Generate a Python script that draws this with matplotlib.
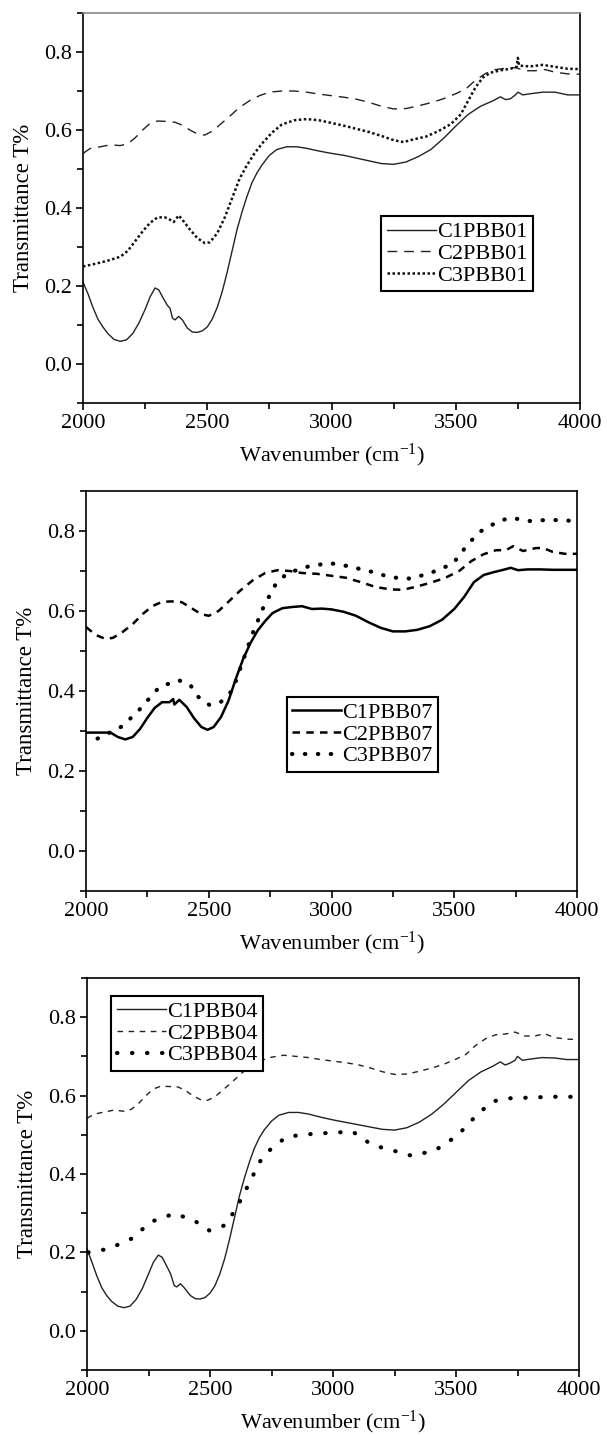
import matplotlib
matplotlib.use('Agg')
import matplotlib.pyplot as plt
from matplotlib.ticker import MultipleLocator, FormatStrFormatter

plt.rcParams['font.family'] = ['Liberation Serif', 'DejaVu Serif']
plt.rcParams['mathtext.fontset'] = 'custom'
plt.rcParams['mathtext.rm'] = 'Liberation Serif'
plt.rcParams['mathtext.it'] = 'Liberation Serif:italic'

# ---- panel 1 data (PBB01) ----
x_c1_01 = [2000, 2020, 2040, 2060, 2080, 2100, 2125, 2150, 2175, 2200, 2225, 2250, 2270, 2290,
           2305, 2320, 2340, 2350, 2360, 2370, 2385, 2400, 2420, 2440, 2460, 2480, 2500, 2520,
           2540, 2560, 2580, 2600, 2620, 2640, 2660, 2680, 2700, 2720, 2750, 2780, 2820, 2860,
           2900, 2950, 3000, 3050, 3100, 3150, 3200, 3250, 3300, 3350, 3400, 3450, 3500, 3550,
           3600, 3650, 3680, 3700, 3720, 3740, 3750, 3770, 3800, 3850, 3900, 3950, 4000]
y_c1_01 = [0.21, 0.18, 0.145, 0.115, 0.095, 0.078, 0.063, 0.058, 0.062, 0.078, 0.105, 0.14, 0.172, 0.195,
           0.19, 0.172, 0.15, 0.143, 0.118, 0.113, 0.122, 0.113, 0.092, 0.082, 0.081, 0.085, 0.095, 0.115,
           0.145, 0.185, 0.235, 0.29, 0.345, 0.39, 0.43, 0.465, 0.49, 0.51, 0.535, 0.55, 0.557, 0.557,
           0.553, 0.546, 0.54, 0.535, 0.528, 0.521, 0.514, 0.512, 0.518, 0.532, 0.55, 0.578, 0.61, 0.64,
           0.661, 0.675, 0.685, 0.678, 0.68, 0.69, 0.697, 0.69, 0.693, 0.697, 0.697, 0.69, 0.69]
x_c2_01 = [2000, 2030, 2070, 2110, 2150, 2180, 2210, 2240, 2270, 2300, 2340, 2370, 2400, 2430,
           2460, 2490, 2520, 2550, 2590, 2630, 2670, 2710, 2750, 2800, 2850, 2900, 2950, 3000,
           3050, 3100, 3150, 3200, 3250, 3300, 3350, 3400, 3450, 3500, 3540, 3580, 3620, 3660,
           3700, 3740, 3780, 3820, 3860, 3900, 3950, 4000]
y_c2_01 = [0.54, 0.553, 0.557, 0.562, 0.56, 0.565, 0.58, 0.60, 0.617, 0.623, 0.622, 0.62, 0.612, 0.60,
           0.59, 0.587, 0.597, 0.613, 0.635, 0.658, 0.675, 0.688, 0.697, 0.70, 0.70, 0.697, 0.692, 0.688,
           0.684, 0.679, 0.671, 0.661, 0.654, 0.655, 0.662, 0.67, 0.68, 0.693, 0.705, 0.728, 0.745, 0.755,
           0.758, 0.76, 0.752, 0.752, 0.755, 0.748, 0.744, 0.743]
x_c3_01 = [2000, 2050, 2100, 2150, 2180, 2210, 2240, 2270, 2300, 2330, 2350, 2365, 2385, 2400,
           2430, 2460, 2490, 2510, 2540, 2570, 2600, 2630, 2660, 2690, 2720, 2760, 2800, 2850,
           2900, 2950, 3000, 3050, 3100, 3150, 3200, 3250, 3290, 3330, 3380, 3430, 3480, 3520,
           3550, 3580, 3610, 3640, 3680, 3720, 3745, 3750, 3755, 3800, 3850, 3900, 3950, 4000]
y_c3_01 = [0.25, 0.257, 0.265, 0.275, 0.29, 0.315, 0.34, 0.362, 0.376, 0.376, 0.37, 0.364, 0.381, 0.37,
           0.345, 0.323, 0.31, 0.312, 0.335, 0.375, 0.425, 0.475, 0.51, 0.54, 0.565, 0.593, 0.614, 0.625,
           0.628, 0.625, 0.618, 0.611, 0.603, 0.595, 0.585, 0.574, 0.569, 0.576, 0.583, 0.597, 0.615, 0.64,
           0.675, 0.71, 0.735, 0.747, 0.753, 0.757, 0.762, 0.785, 0.765, 0.763, 0.767, 0.762, 0.757, 0.756]

# ---- panel 2 data (PBB07) ----
x_c1_07 = [2000, 2100, 2130, 2160, 2190, 2220, 2250, 2280, 2310, 2340, 2355, 2360, 2380, 2410,
           2440, 2470, 2495, 2520, 2550, 2580, 2610, 2640, 2670, 2700, 2730, 2760, 2800, 2840,
           2880, 2920, 2960, 3000, 3050, 3100, 3150, 3200, 3250, 3300, 3350, 3400, 3450, 3500,
           3540, 3580, 3620, 3660, 3700, 3730, 3760, 3800, 3850, 3900, 4000]
y_c1_07 = [0.296, 0.296, 0.285, 0.279, 0.285, 0.305, 0.333, 0.358, 0.372, 0.372, 0.38, 0.366, 0.378, 0.36,
           0.332, 0.31, 0.303, 0.31, 0.335, 0.375, 0.43, 0.48, 0.52, 0.552, 0.575, 0.595, 0.607, 0.61,
           0.612, 0.605, 0.606, 0.604, 0.598, 0.588, 0.572, 0.558, 0.549, 0.549, 0.553, 0.562, 0.578, 0.605,
           0.635, 0.672, 0.69, 0.697, 0.703, 0.708, 0.702, 0.704, 0.704, 0.703, 0.703]
x_c2_07 = [2000, 2040, 2080, 2110, 2150, 2190, 2230, 2270, 2310, 2350, 2390, 2430, 2470, 2500,
           2540, 2580, 2630, 2680, 2730, 2780, 2830, 2880, 2940, 3000, 3060, 3120, 3180, 3240,
           3290, 3340, 3400, 3460, 3520, 3570, 3620, 3670, 3710, 3740, 3780, 3830, 3860, 3900,
           3950, 4000]
y_c2_07 = [0.56, 0.54, 0.53, 0.533, 0.548, 0.567, 0.592, 0.612, 0.623, 0.624, 0.622, 0.607, 0.592, 0.588,
           0.60, 0.623, 0.652, 0.677, 0.695, 0.702, 0.70, 0.695, 0.693, 0.688, 0.683, 0.672, 0.66, 0.654,
           0.653, 0.66, 0.67, 0.682, 0.70, 0.725, 0.742, 0.752, 0.752, 0.762, 0.75, 0.757, 0.758, 0.748,
           0.743, 0.743]
x_c3_07 = [2047, 2142, 2204, 2299, 2377, 2425, 2456, 2503, 2550, 2597, 2629, 2676, 2723, 2770,
           2818, 2896, 2990, 3069, 3164, 3242, 3321, 3399, 3494, 3557, 3604, 3682, 3730, 3808,
           3887, 4000]
y_c3_07 = [0.281, 0.31, 0.344, 0.41, 0.427, 0.415, 0.386, 0.365, 0.373, 0.402, 0.457, 0.54, 0.61, 0.664,
           0.694, 0.71, 0.72, 0.712, 0.698, 0.684, 0.681, 0.694, 0.718, 0.768, 0.798, 0.825, 0.833, 0.825,
           0.828, 0.825]

# ---- panel 3 data (PBB04) ----
x_c1_04 = [2000, 2020, 2040, 2060, 2080, 2100, 2125, 2150, 2175, 2200, 2225, 2250, 2270, 2290,
           2305, 2320, 2340, 2355, 2365, 2380, 2395, 2420, 2440, 2460, 2480, 2500, 2520, 2540,
           2560, 2580, 2600, 2620, 2640, 2660, 2680, 2700, 2720, 2750, 2780, 2820, 2860, 2900,
           2950, 3000, 3050, 3100, 3150, 3200, 3250, 3300, 3350, 3400, 3450, 3500, 3550, 3600,
           3650, 3680, 3700, 3720, 3740, 3750, 3770, 3800, 3850, 3900, 3950, 4000]
y_c1_04 = [0.209, 0.175, 0.14, 0.11, 0.09, 0.075, 0.063, 0.059, 0.063, 0.08, 0.108, 0.145, 0.175, 0.193,
           0.188, 0.17, 0.145, 0.115, 0.112, 0.12, 0.11, 0.09, 0.082, 0.081, 0.085, 0.096, 0.115, 0.145,
           0.185, 0.235, 0.29, 0.345, 0.39, 0.43, 0.465, 0.492, 0.512, 0.535, 0.55, 0.557, 0.557, 0.553,
           0.545, 0.538, 0.532, 0.526, 0.52, 0.514, 0.512, 0.518, 0.532, 0.552, 0.578, 0.608, 0.638, 0.66,
           0.675, 0.686, 0.678, 0.683, 0.69, 0.70, 0.69, 0.693, 0.697, 0.696, 0.692, 0.692]
x_c2_04 = [2000, 2030, 2070, 2110, 2150, 2180, 2210, 2240, 2270, 2300, 2340, 2370, 2400, 2430,
           2460, 2490, 2520, 2550, 2590, 2630, 2670, 2710, 2750, 2800, 2850, 2900, 2950, 3000,
           3050, 3100, 3150, 3200, 3250, 3300, 3350, 3400, 3450, 3500, 3540, 3580, 3620, 3660,
           3700, 3740, 3780, 3820, 3860, 3900, 3950, 4000]
y_c2_04 = [0.542, 0.553, 0.558, 0.563, 0.56, 0.565, 0.58, 0.60, 0.617, 0.624, 0.623, 0.622, 0.613, 0.60,
           0.59, 0.588, 0.597, 0.613, 0.635, 0.658, 0.677, 0.69, 0.698, 0.703, 0.70, 0.697, 0.692, 0.688,
           0.684, 0.679, 0.671, 0.661, 0.654, 0.655, 0.662, 0.67, 0.68, 0.693, 0.705, 0.728, 0.745, 0.755,
           0.757, 0.762, 0.752, 0.752, 0.758, 0.748, 0.744, 0.743]
x_c3_04 = [2005, 2087, 2181, 2260, 2355, 2434, 2497, 2560, 2607, 2655, 2702, 2749, 2812, 2891,
           2986, 3080, 3159, 3238, 3317, 3412, 3506, 3585, 3648, 3711, 3806, 3885, 4000]
y_c3_04 = [0.2, 0.209, 0.235, 0.278, 0.299, 0.282, 0.256, 0.269, 0.312, 0.371, 0.431, 0.465, 0.495, 0.501,
           0.505, 0.508, 0.474, 0.461, 0.447, 0.459, 0.498, 0.551, 0.585, 0.593, 0.595, 0.597, 0.597]

W, H = 607, 1435
fig = plt.figure(figsize=(W / 100, H / 100), dpi=100)


def px_axes(left, top, right, bottom):
    return fig.add_axes([left / W, 1 - bottom / H, (right - left) / W, (bottom - top) / H])


def style_axes(ax, top_color='black'):
    ax.set_xlim(2000, 4000)
    ax.set_ylim(-0.1, 0.9)
    ax.xaxis.set_major_locator(MultipleLocator(500))
    ax.xaxis.set_minor_locator(MultipleLocator(250))
    ax.yaxis.set_major_locator(MultipleLocator(0.2))
    ax.yaxis.set_minor_locator(MultipleLocator(0.1))
    ax.yaxis.set_major_formatter(FormatStrFormatter('%.1f'))
    ax.tick_params(which='both', direction='out', top=False, right=False, width=1.2, labelsize=16)
    ax.tick_params(which='major', length=5, pad=3)
    ax.tick_params(which='minor', length=4)
    for s in ax.spines.values():
        s.set_linewidth(1.2)
    ax.spines['top'].set_color(top_color)
    ax.set_xlabel('Wavenumber (cm$^{-1}$)', fontsize=16, labelpad=6)
    ax.set_ylabel('Transmittance T%', fontsize=16.5, labelpad=7)


def add_legend(ax, x0, y0):
    leg = ax.legend(loc='upper left', bbox_to_anchor=(x0, y0), fontsize=16, frameon=True,
                    fancybox=False, edgecolor='black', framealpha=1, handlelength=2.2,
                    handletextpad=0.05, labelspacing=0.05, borderpad=0.25, borderaxespad=0)
    leg.get_frame().set_linewidth(1.5)


# panel 1
ax1 = px_axes(83, 13, 580, 403)
ax1.plot(x_c1_01, y_c1_01, color='#222222', lw=1.0, ls='-', label='C1PBB01')
ax1.plot(x_c2_01, y_c2_01, color='#222222', lw=1.0, ls=(0, (7, 5)), label='C2PBB01')
ax1.plot(x_c3_01, y_c3_01, color='#111111', lw=1.8, ls=(0, (1, 1)), label='C3PBB01')
style_axes(ax1, top_color='#888888')
add_legend(ax1, 0.60, 0.479)

# panel 2
ax2 = px_axes(86, 491, 577, 891)
ax2.plot(x_c1_07, y_c1_07, color='black', lw=1.8, ls='-', label='C1PBB07')
ax2.plot(x_c2_07, y_c2_07, color='black', lw=1.8, ls=(0, (3, 2.5)), label='C2PBB07')
ax2.plot(x_c3_07, y_c3_07, color='black', lw=3.0, ls=(0, (0.1, 3)), dash_capstyle='round',
         label='C3PBB07')
style_axes(ax2)
add_legend(ax2, 0.409, 0.485)

# panel 3
ax3 = px_axes(87, 978, 579, 1370)
ax3.plot(x_c1_04, y_c1_04, color='#222222', lw=1.0, ls='-', label='C1PBB04')
ax3.plot(x_c2_04, y_c2_04, color='#222222', lw=1.0, ls=(0, (4, 4)), label='C2PBB04')
ax3.plot(x_c3_04, y_c3_04, color='black', lw=3.0, ls=(0, (0.1, 3.5)), dash_capstyle='round',
         label='C3PBB04')
style_axes(ax3)
add_legend(ax3, 0.049, 0.954)

fig.savefig('out.png', dpi=100)
